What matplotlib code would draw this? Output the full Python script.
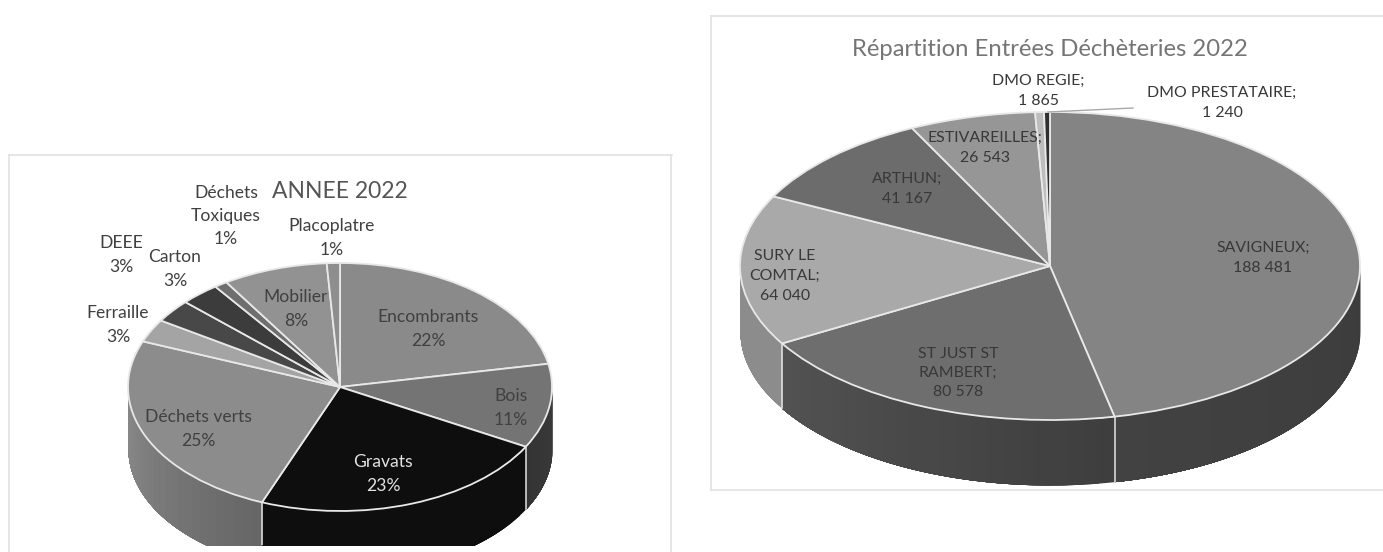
import numpy as np
from matplotlib import pyplot as plt
from matplotlib.colors import to_rgb
from matplotlib.lines import Line2D

W, H = 1383, 552

# left chart
dechets_noms = ["Encombrants", "Bois", "Gravats", "Déchets verts", "Ferraille", "Carton", "DEEE",
                "Déchets\nToxiques", "Mobilier", "Placoplatre"]
dechets_pct = [22, 11, 23, 25, 3, 3, 3, 1, 8, 1]

# right chart
sites_noms = ["SAVIGNEUX;", "ST JUST ST\nRAMBERT;", "SURY LE\nCOMTAL;", "ARTHUN;", "ESTIVAREILLES;",
              "DMO REGIE;", "DMO PRESTATAIRE;"]
sites_val = [188481, 80578, 64040, 41167, 26543, 1865, 1240]

couleurs_g = ["#8a8a8a", "#747474", "#0e0e0e", "#8c8c8c", "#a4a4a4", "#484848", "#3c3c3c", "#6e6e6e", "#929292", "#8e8e8e"]
murs_g = [("#555555", "#555555"), ("#3a3a3a", "#343434"), ("#0e0e0e", "#0e0e0e"), ("#666666", "#8a8a8a"),
          ("#888888", "#888888"), ("#444444", "#444444"), ("#333333", "#333333"), ("#777777", "#777777"),
          ("#888888", "#888888"), ("#888888", "#888888")]
couleurs_d = ["#848484", "#6e6e6e", "#a9a9a9", "#6c6c6c", "#969696", "#bdbdbd", "#303030"]
murs_d = [("#3c3c3c", "#424242"), ("#3e3e3e", "#525252"), ("#8c8c8c", "#8c8c8c"), ("#555555", "#555555"),
          ("#777777", "#777777"), ("#999999", "#999999"), ("#333333", "#333333")]

pos_g = [(428, 329), (511, 408), (383, 474), (198, 429), (118, 325), (175, 269), (121, 255), (226, 216), (296, 309), (332, 238)]
pos_d = [(1263, 258), (958, 373), (785, 276), (907, 189), (985, 148), (1038, 91), (1222, 103)]

fig = plt.figure(figsize=(W / 100, H / 100), dpi=100)
plt.rcParams['font.family'] = ['Lato', 'DejaVu Sans']


def px(x, y):
    return x / W, 1 - y / H


def camembert(boite, cx, cy, rx, ry, prof, vals, couleurs, murs):
    g, h, d, b = boite
    ax = fig.add_axes([g / W, 1 - b / H, (d - g) / W, (b - h) / H])
    total = sum(vals)
    bornes = np.cumsum([0] + list(vals)) / total * 2 * np.pi
    ep = prof / ry
    for i in range(len(vals)):
        a0, a1 = max(bornes[i], np.pi / 2), min(bornes[i + 1], 3 * np.pi / 2)
        if a1 <= a0:
            continue
        c0, c1 = np.array(to_rgb(murs[i][0])), np.array(to_rgb(murs[i][1]))
        cuts = np.linspace(a0, a1, 25)
        # each step runs to the end of the slice so no seams show between steps
        for k in range(24):
            t = np.linspace(cuts[k], a1, 40)
            c = c0 + (c1 - c0) * k / 23
            ax.fill_between(np.sin(t), np.cos(t) - ep, np.cos(t), color=c, lw=0)
        if bornes[i + 1] < 3 * np.pi / 2:
            s, co = np.sin(bornes[i + 1]), np.cos(bornes[i + 1])
            ax.plot([s, s], [co, co - ep], color="#e4e4e4", lw=1.1)
    ax.pie(vals, colors=couleurs, startangle=90, counterclock=False, radius=1,
           wedgeprops=dict(edgecolor="#e8e8e8", linewidth=1.3))
    ax.set_aspect('auto')
    ax.set_xlim((g - cx) / rx, (d - cx) / rx)
    ax.set_ylim((cy - b) / ry, (cy - h) / ry)
    ax.axis('off')
    return ax


camembert((10, 156, 671, 545), 340, 387, 212, 124, 62, dechets_pct, couleurs_g, murs_g)
camembert((712, 17, 1380, 489), 1050, 266, 310, 154, 65, sites_val, couleurs_d, murs_d)

# cadres
gris = "#e2e2e2"
for xs, ys in [((9, 672), (155, 155)), ((9, 9), (155, 552)), ((671, 671), (155, 552)),
               ((711, 1383), (16, 16)), ((711, 711), (16, 490)), ((711, 1383), (490, 490))]:
    fig.add_artist(Line2D([x / W for x in xs], [1 - y / H for y in ys], color=gris, lw=1.2))

# trait de rappel DMO PRESTATAIRE
fig.add_artist(Line2D([1048 / W, 1133 / W], [1 - 112 / H, 1 - 108 / H], color="#a8a8a8", lw=1))

for nom, v, (x, y) in zip(dechets_noms, dechets_pct, pos_g):
    coul = "#e2e2e2" if nom == "Gravats" else "#404040"
    fig.text(*px(x, y), f"{nom}\n{v}%", ha="center", va="center", fontsize=12.6, color=coul, linespacing=1.56)

for nom, v, (x, y) in zip(sites_noms, sites_val, pos_d):
    val = f"{v:,}".replace(",", " ")
    fig.text(*px(x, y), f"{nom}\n{val}", ha="center", va="center", fontsize=11.4, color="#383838", linespacing=1.5)

fig.text(*px(340, 191), "ANNEE 2022", ha="center", va="center", fontsize=16.5, color="#555555")
fig.text(*px(1050, 50), "Répartition Entrées Déchèteries 2022", ha="center", va="center", fontsize=17.2, color="#757575")

fig.savefig("out.png", dpi=100)
